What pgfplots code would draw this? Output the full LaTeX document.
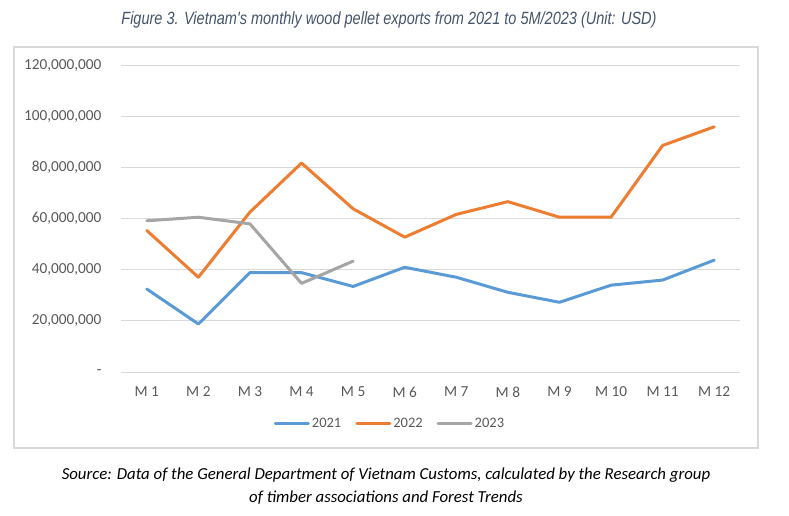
\documentclass[border=0pt]{standalone}
\usepackage{pgfplots}
\pgfplotsset{compat=1.18}
\usepackage{fontspec}
\setmainfont{Carlito}
\newfontfamily\titlefont[FakeStretch=0.82]{Liberation Sans}
\definecolor{c21}{HTML}{5B9BD5}
\definecolor{c22}{HTML}{ED7D31}
\definecolor{c23}{HTML}{A5A5A5}
\definecolor{gridc}{HTML}{D9D9D9}
\definecolor{txt}{HTML}{595959}
\definecolor{ttl}{HTML}{44546A}
\begin{document}
\begin{tikzpicture}[x=1pt,y=1pt]
\path[use as bounding box] (0,0) rectangle (789,-515);
\node[font=\titlefont\itshape\fontsize{17.7}{21}\selectfont, text=ttl] at (389,-20) {Figure 3. Vietnam's monthly wood pellet exports from 2021 to 5M/2023 (Unit: USD)};
\draw[gridc, line width=1.3pt] (14,-47) rectangle (758,-448);
\begin{axis}[
  at={(121pt,-372pt)}, anchor=south west,
  scale only axis, width=619pt, height=306.5pt,
  xmin=0.5, xmax=12.5, ymin=0, ymax=120,
  xtick={1,...,12},
  xticklabels={M 1,M 2,M 3,M 4,M 5,M 6,M 7,M 8,M 9,M 10,M 11,M 12},
  ytick={0,20,40,60,80,100,120},
  yticklabels={{-\hspace{7pt}},{20,000,000},{40,000,000},{60,000,000},{80,000,000},{100,000,000},{120,000,000}},
  ymajorgrids, grid style={gridc, line width=1pt},
  axis line style={draw=none}, major tick length=0pt,
  ticklabel style={font=\fontsize{15.3}{18}\selectfont, text=txt},
  yticklabel style={anchor=east, xshift=-16pt},
  xticklabel style={anchor=center, yshift=-20pt},
  legend columns=3,
  legend style={at={(0.4346,-0.169)}, anchor=center, draw=none, fill=none,
    font=\fontsize{14.5}{17}\selectfont, text=txt, inner sep=0pt,
    /tikz/every even column/.append style={column sep=12pt}},
  legend cell align=left,
  legend image code/.code={\draw[line width=3pt] (0pt,0pt) -- (33pt,0pt);},
  every axis plot/.append style={line width=3pt, line join=round, line cap=round},
  clip=false,
]
\addplot[c21] coordinates {(1,32.5) (2,18.8) (3,38.9) (4,38.9) (5,33.5) (6,41.0) (7,37.1) (8,31.2) (9,27.3) (10,34.0) (11,36.0) (12,43.8)};
\addlegendentry{2021}
\addplot[c22] coordinates {(1,55.4) (2,37.1) (3,62.6) (4,81.8) (5,63.9) (6,52.8) (7,61.7) (8,66.7) (9,60.6) (10,60.6) (11,88.7) (12,96.0)};
\addlegendentry{2022}
\addplot[c23] coordinates {(1,59.2) (2,60.6) (3,58.0) (4,34.7) (5,43.4)};
\addlegendentry{2023}
\end{axis}
\node[font=\itshape\fontsize{16.8}{23}\selectfont, align=center, text=black] at (386,-486.5) {Source: Data of the General Department of Vietnam Customs, calculated by the Research group\\of timber associations and Forest Trends};
\end{tikzpicture}
\end{document}
